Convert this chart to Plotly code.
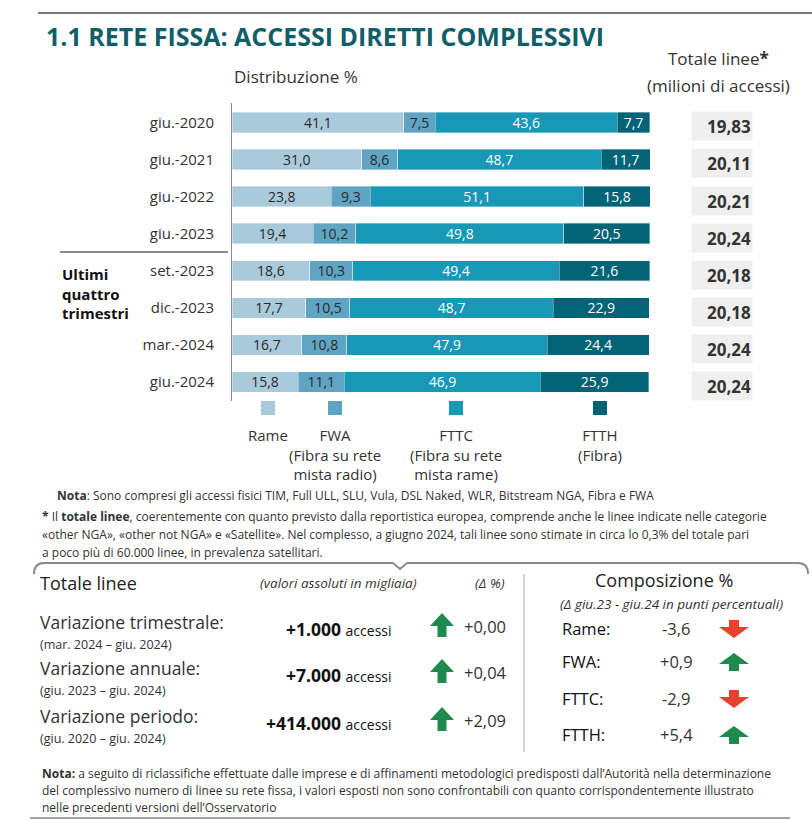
import plotly.graph_objects as go

W, H = 812, 820
def X(px): return px / W
def Y(py): return 1 - py / H

# ---------------- data ----------------
periodi = ["giu.-2020", "giu.-2021", "giu.-2022", "giu.-2023",
           "set.-2023", "dic.-2023", "mar.-2024", "giu.-2024"]
rame = [41.1, 31.0, 23.8, 19.4, 18.6, 17.7, 16.7, 15.8]
fwa = [7.5, 8.6, 9.3, 10.2, 10.3, 10.5, 10.8, 11.1]
fttc = [43.6, 48.7, 51.1, 49.8, 49.4, 48.7, 47.9, 46.9]
ftth = [7.7, 11.7, 15.8, 20.5, 21.6, 22.9, 24.4, 25.9]
totale_linee = [19.83, 20.11, 20.21, 20.24, 20.18, 20.18, 20.24, 20.24]
serie_nomi = ["Rame", "FWA", "FTTC", "FTTH"]
serie_legenda = ["Rame", "FWA<br>(Fibra su rete<br>mista radio)",
                 "FTTC<br>(Fibra su rete<br>mista rame)", "FTTH<br>(Fibra)"]
var_nomi = ["Variazione trimestrale:", "Variazione annuale:", "Variazione periodo:"]
var_periodi = ["(mar. 2024 – giu. 2024)", "(giu. 2023 – giu. 2024)", "(giu. 2020 – giu. 2024)"]
var_accessi = [1000, 7000, 414000]
var_pct = [0.00, 0.04, 2.09]
comp_nomi = ["Rame:", "FWA:", "FTTC:", "FTTH:"]
comp_delta = [-3.6, 0.9, -2.9, 5.4]

# ---------------- styles ----------------
COLORS = ["#a9cadb", "#5fa4c2", "#1897b6", "#006476"]
TXT_COLORS = ["#2a2a2a", "#2a2a2a", "#ffffff", "#ffffff"]
BODY = "Open Sans, Noto Sans, sans-serif"
NARROW = "Liberation Sans Narrow, Open Sans, sans-serif"
TEAL = "#0f5e68"
GREEN = "#1e8a4c"
RED = "#e8402f"

def it(v, d=1):
    return f"{v:.{d}f}".replace(".", ",")

def sign(v, d=1):
    return ("+" if v >= 0 else "-") + it(abs(v), d)

def thousands(v):
    return f"{v:,}".replace(",", ".")

fig = go.Figure()

for nome, vals, col, tcol in zip(serie_nomi, [rame, fwa, fttc, ftth], COLORS, TXT_COLORS):
    fig.add_trace(go.Bar(
        y=periodi, x=vals, orientation="h", name=nome,
        marker=dict(color=col, line=dict(color="rgba(255,255,255,0.6)", width=0.6)),
        text=[it(v) for v in vals], textposition="inside", insidetextanchor="middle",
        textangle=0, textfont=dict(color=tcol, size=14, family=BODY),
        width=0.55, showlegend=False, hoverinfo="skip"))

annotations = []
shapes = []

def ann(text, x, y, size=14, color="#333333", xanchor="left", yanchor="middle",
        family=BODY, **kw):
    d = dict(text=text, x=X(x), y=Y(y), xref="paper", yref="paper", showarrow=False,
             xanchor=xanchor, yanchor=yanchor, font=dict(size=size, color=color, family=family))
    d.update(kw)
    annotations.append(d)

def line(x0, y0, x1, y1, color="#888888", width=2):
    shapes.append(dict(type="line", xref="paper", yref="paper",
                       x0=X(x0), y0=Y(y0), x1=X(x1), y1=Y(y1),
                       line=dict(color=color, width=width)))

def arrow(cx, cy, up, w, h, head_h, stem_w, color):
    s = -1 if up else 1
    tip = cy + s * h / 2
    base = tip - s * head_h
    tail = cy - s * h / 2
    pts = [(cx, tip), (cx + w / 2, base), (cx + stem_w / 2, base), (cx + stem_w / 2, tail),
           (cx - stem_w / 2, tail), (cx - stem_w / 2, base), (cx - w / 2, base)]
    path = "M " + " L ".join(f"{X(px):.5f},{Y(py):.5f}" for px, py in pts) + " Z"
    shapes.append(dict(type="path", xref="paper", yref="paper", path=path,
                       fillcolor=color, line=dict(width=0)))

# title & top line
line(38, 13, 812, 13, "#7a7a7a", 2)
ann("<b>1.1 RETE FISSA: ACCESSI DIRETTI COMPLESSIVI</b>", 44, 36, size=25, color=TEAL,
    family=NARROW)
ann("Distribuzione %", 232, 77, size=17, color="#333333")
ann("Totale linee<b>*</b>", 718, 59, size=17, color="#333333", xanchor="center")
ann("(milioni di accessi)", 718, 86, size=17, color="#333333", xanchor="center")

# totals column
for p, t in zip(periodi, totale_linee):
    annotations.append(dict(text=f"<b>{it(t, 2)}</b>", x=X(722), y=p, xref="paper", yref="y",
                            showarrow=False, xanchor="center", yanchor="middle", yshift=-4,
                            width=58, height=26, align="right", bgcolor="#efefef",
                            font=dict(size=17, color="#333333", family=BODY)))

# separator and group label
line(60, 252, 228, 252, "#8a8a8a", 2)
ann("<b>Ultimi<br>quattro<br>trimestri</b>", 60, 262, size=15, color="#111111",
    yanchor="top", align="left")

# legend
leg_x = [268, 335, 456, 600]
for lx, col, lab in zip(leg_x, COLORS, serie_legenda):
    shapes.append(dict(type="rect", xref="paper", yref="paper",
                       x0=X(lx - 7), x1=X(lx + 7), y0=Y(415), y1=Y(401),
                       fillcolor=col, line=dict(width=0)))
    ann(lab, lx, 423, size=15, color="#333333", xanchor="center", yanchor="top", align="center")

# notes
NOTE = 12
ann("<b>Nota</b>: Sono compresi gli accessi fisici TIM, Full ULL, SLU, Vula, DSL Naked, WLR, Bitstream NGA, Fibra e FWA",
    55, 495, size=NOTE, color="#333333", family=NARROW)
nota2 = ["<b>*</b> Il <b>totale linee</b>, coerentemente con quanto previsto dalla reportistica europea, comprende anche le linee indicate nelle categorie",
         "«other NGA», «other not NGA» e «Satellite». Nel complesso, a giugno 2024, tali linee sono stimate in circa lo 0,3% del totale pari",
         "a poco più di 60.000 linee, in prevalenza satellitari."]
for i, t in enumerate(nota2):
    ann(t, 40, 516 + 18 * i, size=NOTE, color="#333333", family=NARROW)

# bottom panel frame
pts = "M {a},{b} Q {a},{c} {d},{c} L {e},{c} L {f},{g} L {h},{c} L {i},{c} Q {j},{c} {j},{b}".format(
    a=X(34), b=Y(574), c=Y(563), d=X(44), e=X(393), f=X(400), g=Y(569), h=X(407),
    i=X(798), j=X(808))
shapes.append(dict(type="path", xref="paper", yref="paper", path=pts,
                   line=dict(color="#8a8a8a", width=2)))
line(524, 574, 524, 752, "#c4c4c4", 1.5)

# left panel
ann("Totale linee", 38, 583, size=18, color="#222222")
ann("<i>(valori assoluti in migliaia)</i>", 338, 583, size=13.5, color="#333333", xanchor="center")
ann("<i>(Δ %)</i>", 490, 583, size=13.5, color="#333333", xanchor="center")
row_y = [622, 668, 716]
for ry, nome, per, acc, pct in zip(row_y, var_nomi, var_periodi, var_accessi, var_pct):
    ann(nome, 38, ry, size=17.5, color="#333333")
    ann(per, 38, ry + 22, size=12.5, color="#333333")
    ann(f"<b>+{thousands(acc)}</b> <span style='font-size:14px'>accessi</span>", 394, ry + 7,
        size=17.5, color="#111111", xanchor="right")
    arrow(442, ry + 3, pct >= 0, 24, 24, 13, 9, GREEN if pct >= 0 else RED)
    ann(sign(pct, 2), 462, ry + 4, size=16.5, color="#333333")

# right panel
ann("Composizione %", 664, 580, size=18, color="#222222", xanchor="center")
ann("<i>(Δ giu.23 - giu.24 in punti percentuali)</i>", 671, 604, size=13.5, color="#333333",
    xanchor="center")
comp_y = [628, 661, 698, 734]
for cy, nome, d in zip(comp_y, comp_nomi, comp_delta):
    ann(nome, 560, cy, size=16.5, color="#111111")
    ann(sign(d, 1), 676, cy, size=16.5, color="#333333", xanchor="center")
    arrow(734, cy + 1, d >= 0, 30, 18, 11, 10, GREEN if d >= 0 else RED)

# bottom note
nota3 = ["<b>Nota:</b> a seguito di riclassifiche effettuate dalle imprese e di affinamenti metodologici predisposti dall’Autorità nella determinazione",
         "del complessivo numero di linee su rete fissa, i valori esposti non sono confrontabili con quanto corrispondentemente illustrato",
         "nelle precedenti versioni dell’Osservatorio"]
for i, t in enumerate(nota3):
    ann(t, 40, 773 + 17 * i, size=NOTE, color="#333333", family=NARROW)
line(30, 818, 790, 818, "#444444", 1)

fig.update_layout(
    width=W, height=H, margin=dict(l=0, r=0, t=0, b=0),
    paper_bgcolor="white", plot_bgcolor="white",
    barmode="stack", bargap=0.45,
    uniformtext=dict(minsize=14, mode="show"),
    annotations=annotations, shapes=shapes,
    xaxis=dict(domain=[X(232), X(650)], range=[0, 100], visible=False, fixedrange=True),
    yaxis=dict(domain=[Y(400.5), Y(103.4)], type="category", autorange="reversed",
               showline=True, linecolor="#8c8c8c", linewidth=1, ticks="",
               showgrid=False, zeroline=False, ticklabelstandoff=14,
               tickfont=dict(size=15, color="#333333", family=BODY)),
    font=dict(family=BODY),
)

fig.write_html("out.html", config={"displayModeBar": False},
               post_script="document.body.style.margin='0';document.body.style.overflow='hidden';")
